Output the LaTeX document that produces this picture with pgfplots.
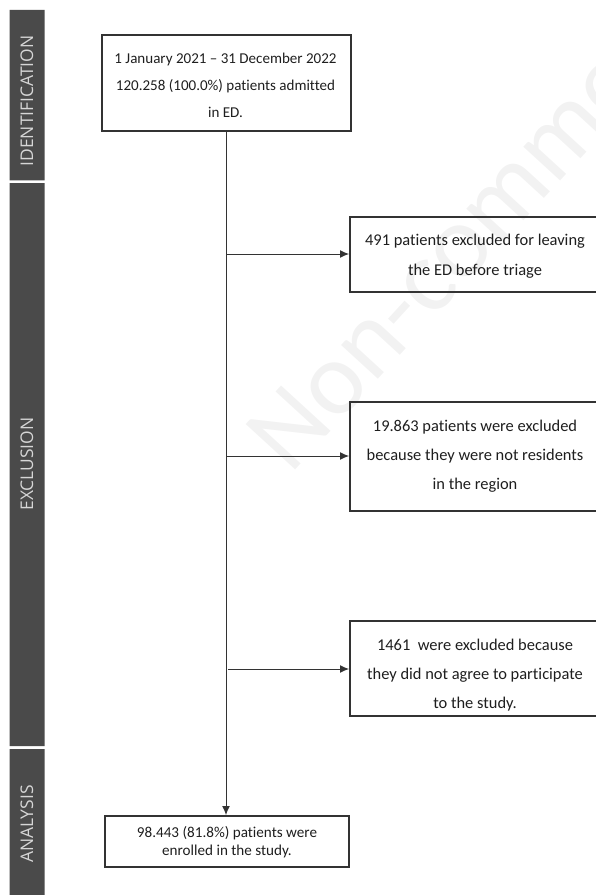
\documentclass[border=0pt]{standalone}
\usepackage{pgfplots}
\pgfplotsset{compat=1.18}
\usepackage{fontspec}
\setmainfont{Carlito}[Ligatures=NoCommon]
\newfontfamily\barfont{Open Sans}
\usetikzlibrary{arrows.meta}
\definecolor{barc}{HTML}{4A4A4A}
\definecolor{bartxt}{HTML}{D6D6D6}
\definecolor{txt}{HTML}{1E1E1E}
\definecolor{edge}{HTML}{333333}
\definecolor{wm}{HTML}{F2F2F2}
\begin{document}
\begin{tikzpicture}
\begin{axis}[scale only axis, width=596bp, height=895bp,
  xmin=0, xmax=596, ymin=0, ymax=895, y dir=reverse,
  hide axis, clip=true]
% watermark
\begin{scope}
\clip (axis cs:0,0) rectangle (axis cs:596,895);
\node[rotate=47.5, anchor=base west, text=wm, font=\fontsize{105}{105}\selectfont] at (axis cs:288,478) {Non-commercial use only};
\end{scope}
% side bars
\addplot[fill=barc, draw=none] coordinates {(9.5,10) (44.5,10) (44.5,180.5) (9.5,180.5) (9.5,10)};
\addplot[fill=barc, draw=none] coordinates {(9.5,183) (44.5,183) (44.5,746) (9.5,746) (9.5,183)};
\addplot[fill=barc, draw=none] coordinates {(9.5,749) (44.5,749) (44.5,895) (9.5,895) (9.5,749)};
\node[rotate=90, text=bartxt, font=\barfont\fontsize{17.5}{20}\selectfont] at (axis cs:27,101) {IDENTIFICATION};
\node[rotate=90, text=bartxt, font=\barfont\fontsize{17.5}{20}\selectfont] at (axis cs:27,464) {EXCLUSION};
\node[rotate=90, text=bartxt, font=\barfont\fontsize{17.5}{20}\selectfont] at (axis cs:27,824) {ANALYSIS};
% boxes
\addplot[draw=edge, line width=1.3pt, mark=none] coordinates {(102,35) (351,35) (351,131) (102,131)} -- cycle;
\addplot[draw=edge, line width=1.3pt, mark=none] coordinates {(350,217) (600,217) (600,292) (350,292)} -- cycle;
\addplot[draw=edge, line width=1.3pt, mark=none] coordinates {(350,402) (600,402) (600,511) (350,511)} -- cycle;
\addplot[draw=edge, line width=1.3pt, mark=none] coordinates {(350,621) (600,621) (600,716) (350,716)} -- cycle;
\addplot[draw=edge, line width=1.3pt, mark=none] coordinates {(105,816) (349,816) (349,867) (105,867)} -- cycle;
% connectors
\addplot[draw=edge, line width=1pt, mark=none, -{Latex[length=9bp,width=8bp]}] coordinates {(226,131) (226,815)};
\addplot[draw=edge, line width=1pt, mark=none, -{Latex[length=9bp,width=8bp]}] coordinates {(226,254) (349,254)};
\addplot[draw=edge, line width=1pt, mark=none, -{Latex[length=9bp,width=8bp]}] coordinates {(226,456) (349,456)};
\addplot[draw=edge, line width=1pt, mark=none, -{Latex[length=9bp,width=8bp]}] coordinates {(228,669) (349,669)};
% texts
\node[align=center, text=txt, font=\fontsize{15.1}{27}\selectfont] at (axis cs:225.5,85) {1 January 2021 – 31 December 2022\\120.258 (100.0\%) patients admitted\\in ED.};
\node[align=center, text=txt, font=\fontsize{16.5}{30}\selectfont] at (axis cs:475,256) {491 patients excluded for leaving\\the ED before triage};
\node[align=center, text=txt, font=\fontsize{16.5}{29}\selectfont] at (axis cs:475,456) {19.863 patients were excluded\\because they were not residents\\in the region};
\node[align=center, text=txt, font=\fontsize{16.5}{29}\selectfont] at (axis cs:475,675) {1461\ \ were excluded because\\they did not agree to participate\\to the study.};
\node[align=center, text=txt, font=\fontsize{15.2}{17.5}\selectfont] at (axis cs:227,842) {98.443 (81.8\%) patients were\\enrolled in the study.};
\end{axis}
\pgfresetboundingbox
\path (current axis.south west) rectangle (current axis.north east);
\end{tikzpicture}
\end{document}
